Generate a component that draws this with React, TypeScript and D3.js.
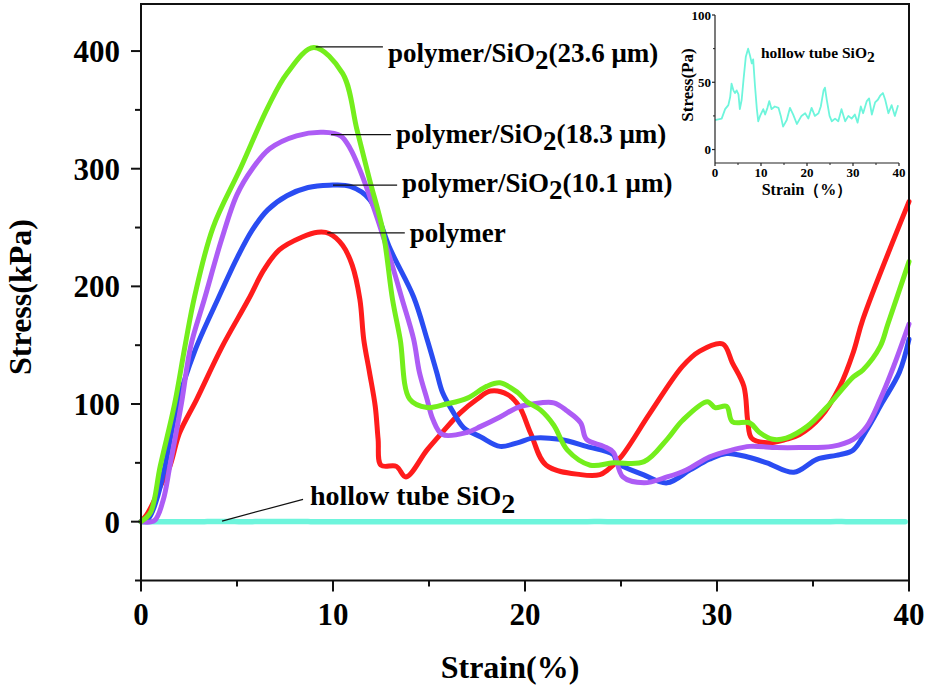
import React from 'react';
import * as d3 from 'd3';

const W = 930;
const H = 689;

// strain (%), stress (kPa)
const polymer: [number, number][] = [
  [0, 0], [0.3, 6], [0.6, 15], [1.0, 30], [1.5, 47], [2.0, 75], [2.9, 104], [4.2, 148],
  [5.6, 189], [6.4, 214], [7.2, 231], [8.4, 242], [9.2, 246], [9.8, 245], [10.5, 235],
  [11.0, 218], [11.4, 189], [11.6, 155], [11.9, 127], [12.2, 98], [12.35, 70], [12.5, 48],
  [13.3, 47], [13.8, 38], [14.9, 61], [15.7, 76], [16.6, 92], [17.5, 104], [18.2, 111],
  [19.1, 108], [19.7, 98], [20.3, 75], [21.1, 48], [22.9, 40], [23.9, 40], [24.3, 44],
  [25.0, 55], [26.5, 92], [28.2, 132], [29.1, 145], [30.3, 151], [30.8, 135], [31.4, 115],
  [31.6, 86], [31.8, 71], [32.6, 67], [33.6, 70], [34.3, 74], [35.4, 89], [36.4, 115],
  [37.1, 144], [37.6, 172], [40, 272],
];

const sio2_10: [number, number][] = [
  [0, 0], [0.4, 3], [0.8, 18], [1.25, 47], [1.9, 100], [2.8, 145], [4.0, 189], [5.0, 224],
  [5.8, 248], [6.6, 265], [7.6, 277], [8.7, 284], [9.8, 286], [10.9, 285], [11.9, 274],
  [13.0, 231], [14.2, 191], [14.9, 155], [15.4, 127], [15.7, 110], [16.3, 92], [16.8, 80],
  [17.7, 72], [18.7, 64], [19.6, 67], [20.4, 71], [21.8, 70], [23.2, 64], [24.6, 57],
  [24.8, 50], [26.15, 40], [27.4, 33], [28.6, 44], [29.6, 53], [30.5, 58], [31.6, 55],
  [32.6, 50], [34.0, 42], [35.2, 53], [36.4, 57], [37.1, 61], [37.8, 78], [38.6, 101],
  [39.5, 127], [40, 155],
];

const sio2_18: [number, number][] = [
  [0, 0], [0.7, 1], [1.15, 18], [1.5, 47], [2.1, 100], [2.6, 150], [3.3, 189], [4.2, 240],
  [5.0, 278], [5.8, 300], [6.7, 317], [8.1, 328], [9.5, 331], [10.4, 328], [10.9, 317],
  [11.4, 299], [12.2, 263], [13.1, 217], [13.6, 189], [14.2, 155], [14.5, 127], [14.9, 104],
  [15.2, 87], [15.7, 74], [17.0, 76], [17.7, 81], [18.7, 89], [19.6, 97], [20.4, 100],
  [21.5, 101], [22.2, 94], [22.9, 84], [23.2, 70], [24.1, 64], [24.6, 59], [25.1, 38],
  [26.2, 33], [27.4, 38], [28.4, 44], [29.6, 55], [30.8, 61], [31.7, 64], [33.1, 63],
  [34.3, 63], [36.0, 64], [37.1, 70], [37.8, 81], [38.5, 104], [39.2, 132], [40, 168],
];

const sio2_23: [number, number][] = [
  [0, 0], [0.5, 8], [1.0, 47], [1.75, 100], [2.3, 150], [2.8, 192], [3.75, 250], [5.2, 301],
  [6.6, 352], [7.6, 381], [9.0, 403], [10.5, 381], [11.25, 333], [11.9, 291], [12.6, 247],
  [13.1, 189], [13.5, 155], [14.0, 104], [14.9, 97], [15.9, 100], [17.0, 105], [18.0, 115],
  [18.7, 118], [19.6, 110], [20.1, 102], [20.8, 95], [21.5, 82], [22.2, 61], [23.4, 48],
  [24.6, 50], [26.2, 51], [27.4, 70], [28.2, 86], [29.5, 102], [29.9, 97], [30.5, 98],
  [30.8, 85], [31.7, 84], [32.2, 76], [32.9, 70], [33.6, 71], [34.7, 81], [35.7, 97],
  [37.1, 123], [37.6, 129], [38.5, 149], [38.9, 168], [40, 221],
];

// hollow tube SiO2, strain (%), stress (Pa) — inset
const hollowPa: [number, number][] = [
  [0, 22], [0.2, 22], [1.45, 23], [2.2, 30], [2.9, 33], [3.3, 39], [3.6, 49], [4.0, 44],
  [4.35, 42], [4.7, 44], [5.1, 41], [5.4, 30], [5.8, 37], [6.2, 52], [6.7, 69], [7.2, 75],
  [7.6, 70], [8.0, 64], [8.3, 67], [8.7, 47], [9.1, 30], [9.4, 21], [9.8, 25], [10.5, 30],
  [10.9, 26], [11.4, 31], [11.8, 36], [12.3, 30], [13.0, 32], [13.8, 31], [14.3, 25],
  [14.8, 17], [15.6, 22], [16.3, 31], [17.0, 26], [17.8, 19], [18.8, 25], [19.6, 27],
  [20.3, 23], [21.0, 31], [21.7, 25], [22.5, 27], [23.0, 32], [23.6, 44], [23.9, 46],
  [24.3, 37], [24.9, 25], [25.4, 21], [26.1, 23], [26.8, 21], [27.5, 30], [28.3, 21],
  [29.0, 25], [29.7, 23], [30.4, 26], [31.0, 20], [31.7, 32], [32.2, 27], [33.0, 36],
  [33.5, 38], [34.1, 26], [34.8, 35], [35.4, 37], [35.9, 40], [36.5, 42], [37.0, 37],
  [37.7, 27], [38.4, 33], [39.1, 25], [39.8, 33],
];

const xMajor = [0, 10, 20, 30, 40];
const xMinor = [5, 15, 25, 35];
const yMajor = [0, 100, 200, 300, 400];
const yMinor = [-50, 50, 150, 250, 350];
const insetYMajor = [0, 50, 100];
const insetYMinor = [25, 75];

// peak anchors (strain, kPa) and label positions (strain, kPa)
const labelNames = ['(23.6 μm)', '(18.3 μm)', '(10.1 μm)', ''];
const labelAnchors: [number, number][] = [[9.1, 403.5], [9.9, 329], [10.0, 286], [9.7, 245.5]];
const labelPos: [number, number][] = [[12.86, 391], [13.28, 322], [13.6, 280], [14.0, 238]];

const FONT = '"Liberation Serif", "Times New Roman", serif';
const C_RED = '#ff1c1c';
const C_BLUE = '#2a4cf2';
const C_PURPLE = '#ad5cf5';
const C_GREEN = '#74ee1c';
const C_CYAN = '#6ef5dc';

export default function App() {
  const x = d3.scaleLinear().domain([0, 40]).range([141, 909]);
  const y = d3.scaleLinear().domain([-50, 440]).range([580.5, 4]);
  const ix = d3.scaleLinear().domain([0, 40]).range([715, 899]);
  const iy = d3.scaleLinear().domain([-10, 100]).range([163, 15]);

  const line = d3.line<[number, number]>().x(d => x(d[0])).y(d => y(d[1])).curve(d3.curveCatmullRom.alpha(0.5));
  const iline = d3.line<[number, number]>().x(d => ix(d[0])).y(d => iy(d[1]));
  const hollowKPa: [number, number][] = hollowPa.map(d => [d[0], d[1] / 1000]);

  const series = [
    { data: hollowKPa, color: C_CYAN, w: 5.5 },
    { data: polymer, color: C_RED, w: 5 },
    { data: sio2_10, color: C_BLUE, w: 5 },
    { data: sio2_18, color: C_PURPLE, w: 5 },
    { data: sio2_23, color: C_GREEN, w: 5 },
  ];

  const x0 = x(0), y0 = y(-50);

  return (
    <svg width={W} height={H} style={{ position: 'absolute', left: 0, top: 0, background: '#fff' }}
      fontFamily={FONT} fontWeight="bold">
      {/* curves */}
      {series.map((s, i) => (
        <path key={i} d={line(s.data) || ''} fill="none" stroke={s.color} strokeWidth={s.w}
          strokeLinejoin="round" strokeLinecap="round" />
      ))}

      {/* frame */}
      <rect x={x0} y={y(440)} width={x(40) - x0} height={y0 - y(440)} fill="none" stroke="#111" strokeWidth={2} />

      {/* x ticks */}
      {xMajor.map(t => (
        <g key={'xm' + t}>
          <line x1={x(t)} x2={x(t)} y1={y0} y2={y0 + 11} stroke="#111" strokeWidth={2} />
          <text x={x(t)} y={625} textAnchor="middle" fontSize={31}>{t}</text>
        </g>
      ))}
      {xMinor.map(t => (
        <line key={'xn' + t} x1={x(t)} x2={x(t)} y1={y0} y2={y0 + 6} stroke="#111" strokeWidth={2} />
      ))}
      {/* y ticks */}
      {yMajor.map(t => (
        <g key={'ym' + t}>
          <line x1={x0} x2={x0 - 10} y1={y(t)} y2={y(t)} stroke="#111" strokeWidth={2} />
          <text x={120} y={y(t) + 11} textAnchor="end" fontSize={31}>{t}</text>
        </g>
      ))}
      {yMinor.map(t => (
        <line key={'yn' + t} x1={x0} x2={x0 - 6} y1={y(t)} y2={y(t)} stroke="#111" strokeWidth={2} />
      ))}

      {/* axis titles */}
      <text x={510} y={678} textAnchor="middle" fontSize={32}>Strain(%)</text>
      <text transform="translate(31,297) rotate(-90)" textAnchor="middle" fontSize={32}>Stress(kPa)</text>

      {/* annotations */}
      {labelAnchors.map((a, i) => {
        const lx = x(labelPos[i][0]);
        return (
          <g key={'lab' + i}>
            <line x1={x(a[0])} y1={y(a[1])} x2={lx - 5} y2={y(a[1])} stroke="#111" strokeWidth={1.2} />
            <text x={lx} y={y(labelPos[i][1])} fontSize={27}>
              {labelNames[i] ? (
                <>
                  <tspan>polymer/SiO</tspan>
                  <tspan dy={7}>2</tspan>
                  <tspan dy={-7}>{labelNames[i]}</tspan>
                </>
              ) : 'polymer'}
            </text>
          </g>
        );
      })}
      <line x1={x(4.22)} y1={y(0.5)} x2={x(8.44)} y2={y(19)} stroke="#111" strokeWidth={1.2} />
      <text x={x(8.8)} y={y(14)} fontSize={28}>
        <tspan>hollow tube SiO</tspan>
        <tspan dy={8}>2</tspan>
      </text>

      {/* inset */}
      <g>
        <path d={iline(hollowPa) || ''} fill="none" stroke={C_CYAN} strokeWidth={1.8} strokeLinejoin="round" />
        <line x1={ix(0)} x2={ix(0)} y1={iy(100)} y2={iy(-10)} stroke="#222" strokeWidth={1.2} />
        <line x1={ix(0)} x2={ix(40)} y1={iy(-10)} y2={iy(-10)} stroke="#222" strokeWidth={1.2} />
        {xMajor.map(t => (
          <g key={'ixm' + t}>
            <line x1={ix(t)} x2={ix(t)} y1={iy(-10)} y2={iy(-10) + 3} stroke="#222" strokeWidth={1.2} />
            <text x={ix(t)} y={177} textAnchor="middle" fontSize={13}>{t}</text>
          </g>
        ))}
        {xMinor.map(t => (
          <line key={'ixn' + t} x1={ix(t)} x2={ix(t)} y1={iy(-10)} y2={iy(-10) + 2} stroke="#222" strokeWidth={1} />
        ))}
        {insetYMajor.map(t => (
          <g key={'iym' + t}>
            <line x1={ix(0)} x2={ix(0) - 3} y1={iy(t)} y2={iy(t)} stroke="#222" strokeWidth={1.2} />
            <text x={711} y={iy(t) + 4.5} textAnchor="end" fontSize={13}>{t}</text>
          </g>
        ))}
        {insetYMinor.map(t => (
          <line key={'iyn' + t} x1={ix(0)} x2={ix(0) - 2} y1={iy(t)} y2={iy(t)} stroke="#222" strokeWidth={1} />
        ))}
        <text x={ix(20)} y={195} textAnchor="middle" fontSize={16}>Strain（%）</text>
        <text transform="translate(693,85) rotate(-90)" textAnchor="middle" fontSize={17}>Stress(Pa)</text>
        <text x={ix(10)} y={iy(68)} fontSize={15.5}>
          <tspan>hollow tube SiO</tspan>
          <tspan dy={4}>2</tspan>
        </text>
      </g>
    </svg>
  );
}
